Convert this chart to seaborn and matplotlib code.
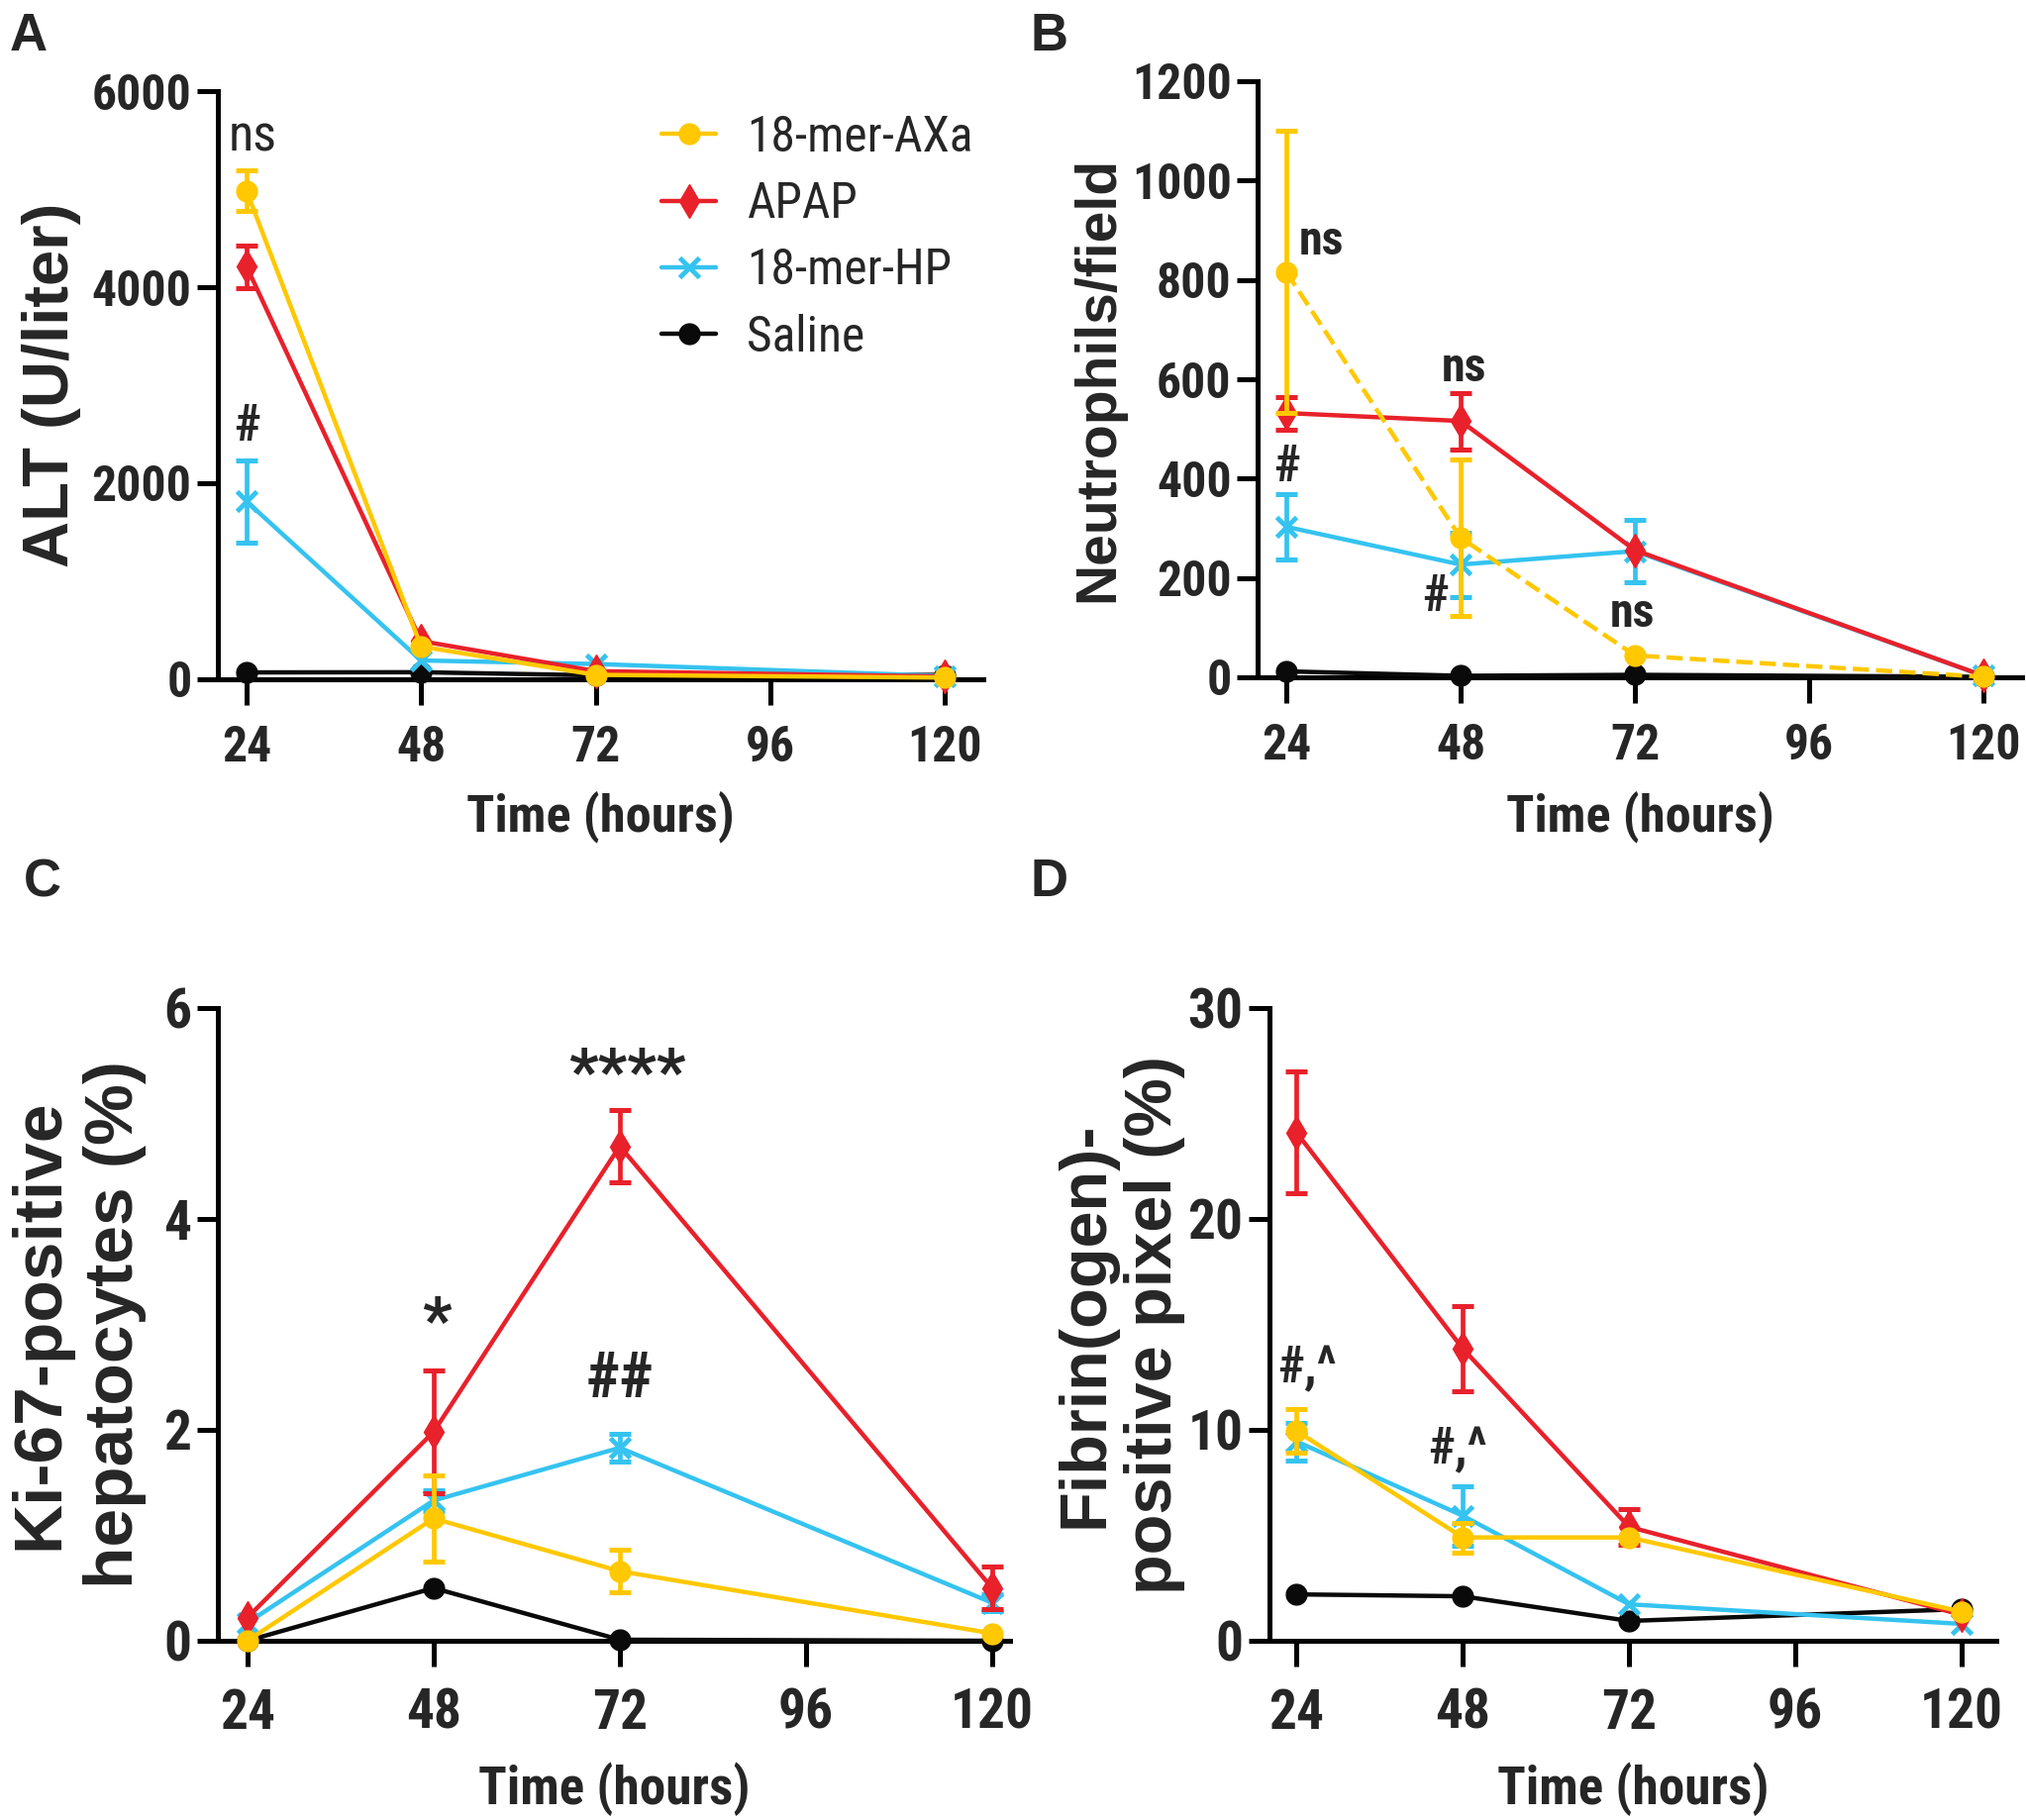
import numpy as np
import pandas as pd
import matplotlib
matplotlib.use("Agg")
import matplotlib.pyplot as plt
import seaborn as sns
from matplotlib import font_manager as fm

# ---------------- data ----------------
time_h = [24, 48, 72, 120]
groups = ["18-mer-AXa", "APAP", "18-mer-HP", "Saline"]

alt_axa = [4980, 334, 45, 17]
alt_axa_err = [207, 0, 0, 0]
alt_apap = [4210, 390, 83, 28]
alt_apap_err = [217, 0, 0, 0]
alt_hp = [1815, 192, 156, 33]
alt_hp_err = [420, 0, 0, 0]
alt_saline = [70, 72, 40, 45]
alt_saline_err = [0, 0, 0, 0]

neu_axa = [816, 281, 44, 1]
neu_axa_err = [284, 157, 0, 0]
neu_apap = [532, 516, 256, 3]
neu_apap_err = [33, 57, 0, 0]
neu_hp = [303, 227, 254, 3]
neu_hp_err = [66, 65, 62, 0]
neu_saline = [12, 3, 5, 1]
neu_saline_err = [0, 0, 0, 0]

ki_axa = [0.0, 1.16, 0.66, 0.07]
ki_axa_err = [0, 0.41, 0.2, 0]
ki_apap = [0.22, 1.98, 4.69, 0.50]
ki_apap_err = [0, 0.58, 0.34, 0.2]
ki_hp = [0.17, 1.33, 1.83, 0.36]
ki_hp_err = [0, 0.1, 0.13, 0.08]
ki_saline = [0.0, 0.50, 0.01, 0.0]
ki_saline_err = [0, 0, 0, 0]

fib_axa = [9.95, 4.9, 4.9, 1.38]
fib_axa_err = [1.05, 0.7, 0, 0]
fib_apap = [24.1, 13.85, 5.4, 1.23]
fib_apap_err = [2.9, 2.0, 0.85, 0]
fib_hp = [9.45, 5.93, 1.73, 0.8]
fib_hp_err = [0.9, 1.4, 0, 0]
fib_saline = [2.2, 2.11, 0.94, 1.5]
fib_saline_err = [0, 0, 0, 0]

x_ticks = [24, 48, 72, 96, 120]

# ---------------- style ----------------
sns.set_style("ticks")
names = {f.name for f in fm.fontManager.ttflist}
NARROW = None
for cand in ["Liberation Sans Narrow", "Roboto Condensed", "Arial Narrow"]:
    if cand in names:
        NARROW = cand
        break
WIDE = "Liberation Sans" if "Liberation Sans" in names else "DejaVu Sans"
if NARROW is None:
    NARROW = WIDE
    ns_ = 0.9
else:
    ns_ = 1.05
plt.rcParams["font.family"] = [WIDE, "DejaVu Sans"]

colors = {"18-mer-AXa": "#FFC800", "APAP": "#E8212B",
          "18-mer-HP": "#35C3F0", "Saline": "#0A0A0A"}
markers = {"18-mer-AXa": "o", "APAP": "d", "18-mer-HP": "x", "Saline": "o"}
zorders = {"Saline": 3, "18-mer-HP": 4, "APAP": 5, "18-mer-AXa": 6}

fig = plt.figure(figsize=(20.46, 18.38), dpi=100)

def make_ax(l, r, b, t):
    W, H = 2046, 1838
    return fig.add_axes([l / W, (H - b) / H, (r - l) / W, (b - t) / H])

axA = make_ax(220, 993, 686, 92)
axB = make_ax(1270, 2042, 684, 82)
axC = make_ax(220, 1020, 1657, 1018)
axD = make_ax(1282, 2016, 1657, 1018)

panels = [
    (axA, {"18-mer-AXa": (alt_axa, alt_axa_err), "APAP": (alt_apap, alt_apap_err),
           "18-mer-HP": (alt_hp, alt_hp_err), "Saline": (alt_saline, alt_saline_err)},
     (20.05, 125.3), (0, 6000), [0, 2000, 4000, 6000], "ALT (U/liter)", 47, 34, False, 1.22),
    (axB, {"18-mer-AXa": (neu_axa, neu_axa_err), "APAP": (neu_apap, neu_apap_err),
           "18-mer-HP": (neu_hp, neu_hp_err), "Saline": (neu_saline, neu_saline_err)},
     (20.05, 125.3), (0, 1200), [0, 200, 400, 600, 800, 1000, 1200], "Neutrophils/field", 41, 34, True, 1.22),
    (axC, {"18-mer-AXa": (ki_axa, ki_axa_err), "APAP": (ki_apap, ki_apap_err),
           "18-mer-HP": (ki_hp, ki_hp_err), "Saline": (ki_saline, ki_saline_err)},
     (20.2, 122.3), (0, 6), [0, 2, 4, 6], "Ki-67-positive\nhepatocytes (%)", 50, 38, False, 1.22),
    (axD, {"18-mer-AXa": (fib_axa, fib_axa_err), "APAP": (fib_apap, fib_apap_err),
           "18-mer-HP": (fib_hp, fib_hp_err), "Saline": (fib_saline, fib_saline_err)},
     (20.1, 125.0), (0, 30), [0, 10, 20, 30], "Fibrin(ogen)-\npositive pixel (%)", 48, 38, False, 1.16),
]

ylabel_x = {axA: -0.217, axB: -0.2085, axC: -0.1775, axD: -0.205}

for ax, series, xl, yl, yt, ylab, ylab_fs, tick_fs, dashed_axa, lsp in panels:
    for g in ["Saline", "18-mer-HP", "APAP", "18-mer-AXa"]:
        vals, errs = series[g]
        df = pd.DataFrame({"time": time_h, "value": vals})
        ls = "--" if (dashed_axa and g == "18-mer-AXa") else "-"
        mk = markers[g]
        ms = 15 if mk == "o" else (17 if mk == "d" else 15)
        mew = 3.5 if mk == "x" else 1
        sns.lineplot(data=df, x="time", y="value", ax=ax, color=colors[g],
                     marker=mk, markersize=ms, markeredgecolor=colors[g],
                     markeredgewidth=mew, linewidth=3.2, linestyle=ls,
                     errorbar=None, label=g, zorder=zorders[g], clip_on=False)
        e = np.array(errs, dtype=float)
        sel = e > 0
        if sel.any():
            ax.errorbar(np.array(time_h)[sel], np.array(vals)[sel], yerr=e[sel],
                        fmt="none", ecolor=colors[g], elinewidth=3.4, capsize=8,
                        capthick=3.6, zorder=zorders[g], clip_on=False)
    ax.set_xlim(*xl)
    ax.set_ylim(*yl)
    ax.set_xticks(x_ticks)
    ax.set_yticks(yt)
    sns.despine(ax=ax)
    for s in ["left", "bottom"]:
        ax.spines[s].set_linewidth(3.6)
        ax.spines[s].set_color("black")
    ax.tick_params(axis="x", length=19, width=3.6, pad=14 if tick_fs < 36 else 15.5,
                   color="black")
    ax.tick_params(axis="y", length=15, width=3.6, pad=4, color="black")
    for lab in ax.get_xticklabels() + ax.get_yticklabels():
        lab.set_fontfamily(NARROW)
        lab.set_fontweight("bold")
        lab.set_fontsize(tick_fs * ns_)
    ax.set_xlabel("Time (hours)", fontfamily=NARROW, fontweight="bold",
                  fontsize=(37 if tick_fs < 36 else 37.5) * 0.85 * (1.2 if ns_ > 1 else 1))
    ax.xaxis.label.set_va("center")
    ax.xaxis.set_label_coords(0.5, -0.234)
    ax.set_ylabel(ylab, fontweight="bold", fontsize=ylab_fs, linespacing=lsp)
    ax.yaxis.label.set_va("center")
    ax.yaxis.set_label_coords(ylabel_x[ax], 0.5)
    leg = ax.get_legend()
    if leg is not None:
        leg.remove()

# legend in panel A
h, l = axA.get_legend_handles_labels()
order = [l.index(g) for g in groups]
axA.legend([h[i] for i in order], [l[i] for i in order], loc="upper left",
           bbox_to_anchor=(0.58, 0.962), frameon=False, borderpad=0,
           borderaxespad=0, handlelength=1.1, handletextpad=0.64,
           labelspacing=0.39, prop={"family": NARROW, "size": 31 * (1.15 if ns_ > 1 else 1)})

# annotations
af = 0.85 * (1.2 if ns_ > 1 else 1)
nb = dict(fontfamily=NARROW, fontweight="bold", ha="center", va="center")
axA.text(24.8, 5535, "ns", fontfamily=NARROW, fontsize=37 * af, ha="center", va="center")
axA.text(24.1, 2576, "#", fontsize=36 * af, **nb)
axB.text(28.8, 877, "ns", fontsize=34 * af, **nb)
axB.text(48.5, 622, "ns", fontsize=34 * af, **nb)
axB.text(24.1, 423, "#", fontsize=36 * af, **nb)
axB.text(44.5, 161, "#", fontsize=36 * af, **nb)
axB.text(71.6, 128, "ns", fontsize=34 * af, **nb)
axC.text(48.4, 3.0, "*", fontsize=46 * af, **nb)
axC.text(72.9, 5.36, "****", fontsize=46 * af, **nb)
axC.text(72.0, 2.47, "##", fontsize=46 * af, **nb)
axD.text(25.5, 12.9, "#,^", fontsize=36 * af, **nb)
axD.text(47.2, 9.06, "#,^", fontsize=36 * af, **nb)

# panel letters
for letter, (px, py) in {"A": (29, 37), "B": (1060, 37), "C": (43, 891), "D": (1060, 891)}.items():
    fig.text(px / 2046, 1 - py / 1838, letter, fontsize=38, fontweight="bold",
             ha="center", va="center")

fig.savefig("out.png", dpi=100)
